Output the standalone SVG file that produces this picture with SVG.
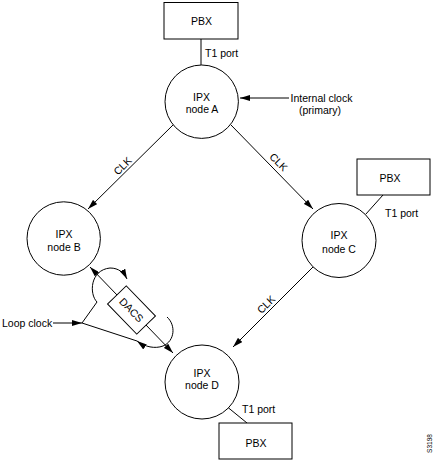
<svg xmlns="http://www.w3.org/2000/svg" width="433" height="463" viewBox="0 0 433 463">
<defs>
<style>
.ln{stroke:#000;stroke-width:1;fill:none}
.box{stroke:#000;stroke-width:1;fill:#fff}
.t{font-family:"Liberation Sans",Arial,sans-serif;font-size:10.5px;fill:#000}
.m{text-anchor:middle}
.arr{marker-end:url(#ah)}
</style>
<marker id="ah" markerUnits="userSpaceOnUse" markerWidth="10" markerHeight="6" refX="10" refY="3" orient="auto">
<path d="M0,0 L10,3 L0,6 z" fill="#000"/>
</marker>
</defs>
<rect width="433" height="463" fill="#fff"/>
<g id="connectors">
<line class="ln" x1="201" y1="39" x2="201" y2="65"/>
<line class="ln" x1="383" y1="195" x2="365.5" y2="214.5"/>
<line class="ln" x1="228" y1="407.5" x2="247" y2="423"/>
<line class="ln arr" x1="173" y1="125" x2="88" y2="209"/>
<line class="ln arr" x1="231" y1="125" x2="313" y2="209"/>
<line class="ln arr" x1="313" y1="267" x2="233" y2="347"/>
<line class="ln arr" x1="289" y1="98" x2="240" y2="98"/>
<line class="ln arr" x1="53" y1="323" x2="82" y2="323"/>
<line class="ln arr" x1="131.5" y1="310" x2="90" y2="267"/>
<line class="ln arr" x1="131.5" y1="310" x2="173" y2="353"/>
<path class="ln arr" d="M82,323 L97,302 C89,294 90,270 110,268 C119,268 124,273 127,279"/>
<path class="ln arr" d="M167,317 C176,325 175,341 163,346 C155,349 145,347 137,341"/>
<line class="ln" x1="82" y1="323" x2="137" y2="341"/>
<text class="t m" transform="translate(122.5,166) rotate(-45)" y="3.7">CLK</text>
<text class="t m" transform="translate(278.5,162) rotate(45)" y="3.7">CLK</text>
<text class="t m" transform="translate(266,304.5) rotate(-45)" y="3.7">CLK</text>
<text class="t" x="205" y="57">T1 port</text>
<text class="t" x="385" y="216.5">T1 port</text>
<text class="t" x="242" y="413">T1 port</text>
<text class="t m" x="321.5" y="101.5">Internal clock</text>
<text class="t m" x="320" y="113.5">(primary)</text>
<text class="t" x="2" y="326.5">Loop clock</text>
</g>
<g id="pbx-top">
<rect class="box" x="164" y="2.5" width="74" height="36.5"/>
<text class="t m" x="201.5" y="25">PBX</text>
</g>
<g id="pbx-right">
<rect class="box" x="357" y="159" width="73" height="36"/>
<text class="t m" x="390" y="182">PBX</text>
</g>
<g id="pbx-bottom">
<rect class="box" x="219" y="423" width="73" height="36"/>
<text class="t m" x="256" y="447">PBX</text>
</g>
<g id="node-a">
<circle class="box" cx="201.7" cy="101.7" r="36.7"/>
<text class="t m" x="201.5" y="100.7">IPX</text>
<text class="t m" x="202" y="113.3">node A</text>
</g>
<g id="node-b">
<circle class="box" cx="63.7" cy="238.5" r="36.7"/>
<text class="t m" x="64" y="238.3">IPX</text>
<text class="t m" x="64" y="250.7">node B</text>
</g>
<g id="node-c">
<circle class="box" cx="339" cy="240.5" r="37"/>
<text class="t m" x="339" y="239.3">IPX</text>
<text class="t m" x="339" y="252.7">node C</text>
</g>
<g id="node-d">
<circle class="box" cx="202" cy="382" r="37"/>
<text class="t m" x="202" y="376.7">IPX</text>
<text class="t m" x="202" y="389">node D</text>
</g>
<g id="dacs">
<rect class="box" x="-21" y="-13" width="42" height="26" transform="translate(131.5,310) rotate(46)"/>
<text class="t m" transform="translate(131.5,310) rotate(46)" y="3.8">DACS</text>
</g>
<text class="t m" style="font-size:6.5px" transform="translate(431.5,443.5) rotate(-90)">S3198</text>
</svg>
